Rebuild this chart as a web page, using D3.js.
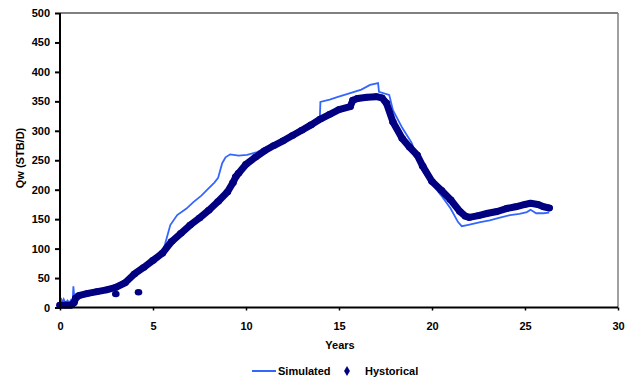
<!DOCTYPE html>
<html>
<head>
<meta charset="utf-8">
<script src="https://cdn.jsdelivr.net/npm/d3@7"></script>
<style>
  html, body { margin: 0; padding: 0; background: #fff; }
  svg { display: block; font-family: "Liberation Sans", Arial, sans-serif; font-weight: bold; }
</style>
</head>
<body>
<svg id="chart" width="630" height="381"></svg>
<script>
// ---- Data ----
const xTicks = [0, 5, 10, 15, 20, 25, 30];
const yTicks = [0, 50, 100, 150, 200, 250, 300, 350, 400, 450, 500];

const simYears = [0, 0.05, 0.12, 0.2, 0.3, 0.4, 0.5, 0.6, 0.68, 0.72, 0.76, 1.0, 1.5, 2.0, 2.5, 3.0, 3.5, 4.0, 4.5, 5.0, 5.5, 5.66, 5.93, 6.3, 6.8, 7.17, 7.6, 7.92, 8.3, 8.5, 8.72, 8.9, 9.15, 9.6, 10.06, 10.6, 11.03, 11.5, 12, 12.5, 13, 13.5, 13.97, 14.0, 14.5, 14.9, 15.6, 16.2, 16.67, 17.1, 17.15, 17.7, 17.9, 18.4, 18.9, 19.2, 19.5, 20, 20.5, 21, 21.4, 21.6, 21.9, 22.6, 23.1, 23.6, 24.2, 24.7, 25.1, 25.3, 25.6, 26.0, 26.3];
const simValues = [3, 16, 8, 14, 7, 12, 8, 13, 10, 36, 20, 20, 23, 28, 31, 39, 46, 59, 69, 81, 93, 109, 140, 157, 168, 179, 190, 200, 212, 220, 245, 255, 260, 258, 259, 264, 271, 277, 285, 293, 302, 311, 322, 349, 353, 357, 364, 370, 378, 381, 366, 361, 335, 305, 280, 255, 232, 210, 190, 168, 145, 138, 140, 145, 148, 152, 157, 159, 162, 166, 160, 160, 161];

const histYears = [0, 0.3, 0.6, 0.75, 0.85, 1, 1.5, 2, 2.5, 3, 3.5, 4, 4.5, 5, 5.5, 6, 6.5, 7, 7.5, 8, 8.5, 9, 9.3, 9.45, 9.6, 10, 10.5, 11, 11.5, 12, 12.5, 13, 13.5, 14, 14.5, 15, 15.6, 15.75, 16, 16.5, 17, 17.3, 17.55, 17.9, 18.4, 18.8, 19.2, 19.5, 20, 20.5, 21, 21.5, 21.8, 22, 22.5, 23, 23.5, 24, 24.5, 25, 25.3, 25.7, 26, 26.3];
const histValues = [4, 4, 4, 8, 16, 20, 24, 27, 30, 34, 42, 57, 68, 80, 92, 112, 126, 140, 152, 165, 180, 196, 212, 222, 228, 243, 255, 266, 275, 283, 292, 301, 310, 320, 328, 336, 341, 352, 355, 357, 358, 356, 347, 315, 287, 272, 259, 240, 214, 199, 183, 163, 155, 153, 156, 160, 163, 168, 171, 175, 177, 175, 171, 169];

const histOutlierYears = [3.0, 4.22];
const histOutlierValues = [23, 26];

// ---- Layout ----
const svg = d3.select("#chart");
const x = d3.scaleLinear().domain([0, 30]).range([60, 618]);
const y = d3.scaleLinear().domain([0, 500]).range([307.5, 13]);

// Plot frame (top and right in gray)
svg.append("line").attr("x1", x(0)).attr("x2", x(30)).attr("y1", y(500)).attr("y2", y(500))
  .attr("stroke", "#808080").attr("stroke-width", 2);
svg.append("line").attr("x1", x(30)).attr("x2", x(30)).attr("y1", y(500)).attr("y2", y(0))
  .attr("stroke", "#808080").attr("stroke-width", 1.5);

// ---- Series ----
const simData = simYears.map((d, i) => [d, simValues[i]]);
const histData = histYears.map((d, i) => [d, histValues[i]]);
const outliers = histOutlierYears.map((d, i) => [d, histOutlierValues[i]]);

const line = d3.line().x(d => x(d[0])).y(d => y(d[1]));

svg.append("path").datum(simData).attr("d", line)
  .attr("fill", "none").attr("stroke", "#3366FF").attr("stroke-width", 1.8)
  .attr("stroke-linejoin", "miter");

svg.append("path").datum(histData).attr("d", line)
  .attr("fill", "none").attr("stroke", "#000080").attr("stroke-width", 7)
  .attr("stroke-linejoin", "round").attr("stroke-linecap", "round");

svg.append("g").selectAll("ellipse").data(histData.concat(outliers)).join("ellipse")
  .attr("cx", d => x(d[0])).attr("cy", d => y(d[1])).attr("rx", 3.8).attr("ry", 3.3)
  .attr("fill", "#000080");

// ---- Axes ----
const xAxis = d3.axisBottom(x).tickValues(xTicks).tickSize(3).tickPadding(12);
const gx = svg.append("g").attr("transform", `translate(0,${y(0)})`).call(xAxis);
gx.select(".domain").attr("stroke", "#000").attr("stroke-width", 2);
gx.selectAll(".tick line").attr("stroke", "#000").attr("stroke-width", 1.5);
gx.selectAll("text").attr("font-size", 11).attr("font-weight", "bold").attr("fill", "#000")
  .attr("font-family", "Liberation Sans, Arial, sans-serif");

const yAxis = d3.axisLeft(y).tickValues(yTicks).tickSize(5).tickPadding(5);
const gy = svg.append("g").attr("transform", `translate(${x(0)},0)`).call(yAxis);
gy.select(".domain").attr("stroke", "#000").attr("stroke-width", 2);
gy.selectAll(".tick line").attr("stroke", "#000").attr("stroke-width", 2);
gy.selectAll("text").attr("font-size", 11).attr("font-weight", "bold").attr("fill", "#000")
  .attr("font-family", "Liberation Sans, Arial, sans-serif");

gx.select(".domain").attr("d", `M${x(0)},0H${x(30)}`);
gy.select(".domain").attr("d", `M0,${y(0)}V${y(500)}`);

// Axis titles
svg.append("text").attr("x", 340).attr("y", 349).attr("text-anchor", "middle")
  .attr("font-size", 11).text("Years");
svg.append("text").attr("transform", "translate(24,158) rotate(-90)").attr("text-anchor", "middle")
  .attr("font-size", 11).text("Qw (STB/D)");

// ---- Legend ----
const lg = svg.append("g");
lg.append("line").attr("x1", 252).attr("x2", 276).attr("y1", 371).attr("y2", 371)
  .attr("stroke", "#3366FF").attr("stroke-width", 2);
lg.append("text").attr("x", 278).attr("y", 375).attr("font-size", 11).text("Simulated");
lg.append("path").attr("d", d3.symbol().type(d3.symbolDiamond).size(30)())
  .attr("transform", "translate(347,371)").attr("fill", "#000080");
lg.append("text").attr("x", 365).attr("y", 375).attr("font-size", 11).text("Hystorical");
</script>
</body>
</html>
